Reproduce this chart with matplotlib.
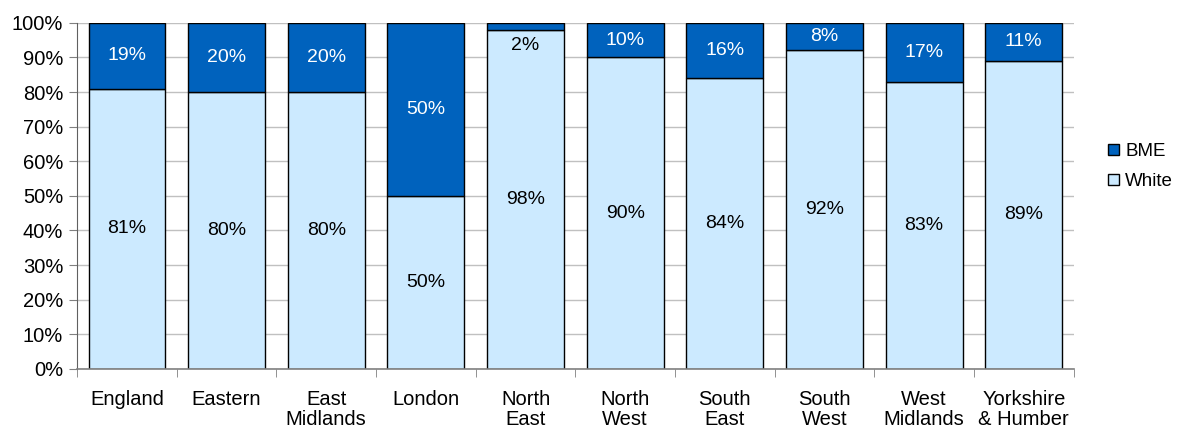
import numpy as np
import matplotlib.pyplot as plt
from matplotlib.patches import Patch

regions = ["England", "Eastern", "East\nMidlands", "London", "North\nEast", "North\nWest",
           "South\nEast", "South\nWest", "West\nMidlands", "Yorkshire\n& Humber"]
white = [81, 80, 80, 50, 98, 90, 84, 92, 83, 89]
bme = [19, 20, 20, 50, 2, 10, 16, 8, 17, 11]

c_white = "#cceaff"
c_bme = "#0062bd"

plt.rcParams['font.family'] = ['Liberation Sans', 'DejaVu Sans']
fig = plt.figure(figsize=(11.78, 4.30), dpi=100)
ax = fig.add_axes([0.0654, 0.142, 0.846, 0.805])

x = np.arange(len(regions))
ax.bar(x, white, width=0.77, color=c_white, edgecolor="black", linewidth=1, zorder=2)
ax.bar(x, bme, width=0.77, bottom=white, color=c_bme, edgecolor="black", linewidth=1, zorder=2)

for i in range(len(regions)):
    ax.text(x[i], white[i] / 2, f"{white[i]}%", ha="center", va="center", fontsize=14, zorder=3)
    if bme[i] < 5:
        ax.text(x[i], white[i] - 4.5, f"{bme[i]}%", ha="center", va="center", fontsize=14, zorder=3)
    else:
        ax.text(x[i], white[i] + bme[i] / 2, f"{bme[i]}%", ha="center", va="center",
                fontsize=14, color="white", zorder=3)

ax.set_xlim(-0.5, len(regions) - 0.5)
ax.set_ylim(0, 100)
ax.set_yticks(np.arange(0, 101, 10))
ax.set_yticklabels([f"{v}%" for v in range(0, 101, 10)], fontsize=14.5)
ax.yaxis.grid(True, color="#c0c0c0", linewidth=1, zorder=0)
ax.set_axisbelow(True)

ax.set_xticks(x)
ax.set_xticklabels(regions, fontsize=14.5)
for t in ax.get_xticklabels():
    t.set_linespacing(1.1)
ax.tick_params(axis="x", length=0, pad=15)
ax.set_xticks(np.arange(-0.5, len(regions), 1), minor=True)
ax.tick_params(axis="x", which="minor", length=6, color="#808080", direction="out")
ax.tick_params(axis="y", length=6, color="#808080", pad=4)

for s in ["top", "right"]:
    ax.spines[s].set_visible(False)
ax.spines["left"].set_color("#606060")
ax.spines["bottom"].set_color("#808080")
ax.spines["bottom"].set_linewidth(1.2)

handles = [Patch(facecolor=c_bme, edgecolor="black", label="BME"),
           Patch(facecolor=c_white, edgecolor="black", label="White")]
fig.legend(handles=handles, loc="center left", bbox_to_anchor=(0.941, 0.613), frameon=False,
           fontsize=13.5, handlelength=0.55, handleheight=0.55, handletextpad=0.35,
           labelspacing=0.7, borderpad=0, borderaxespad=0)

plt.savefig("out.png")
